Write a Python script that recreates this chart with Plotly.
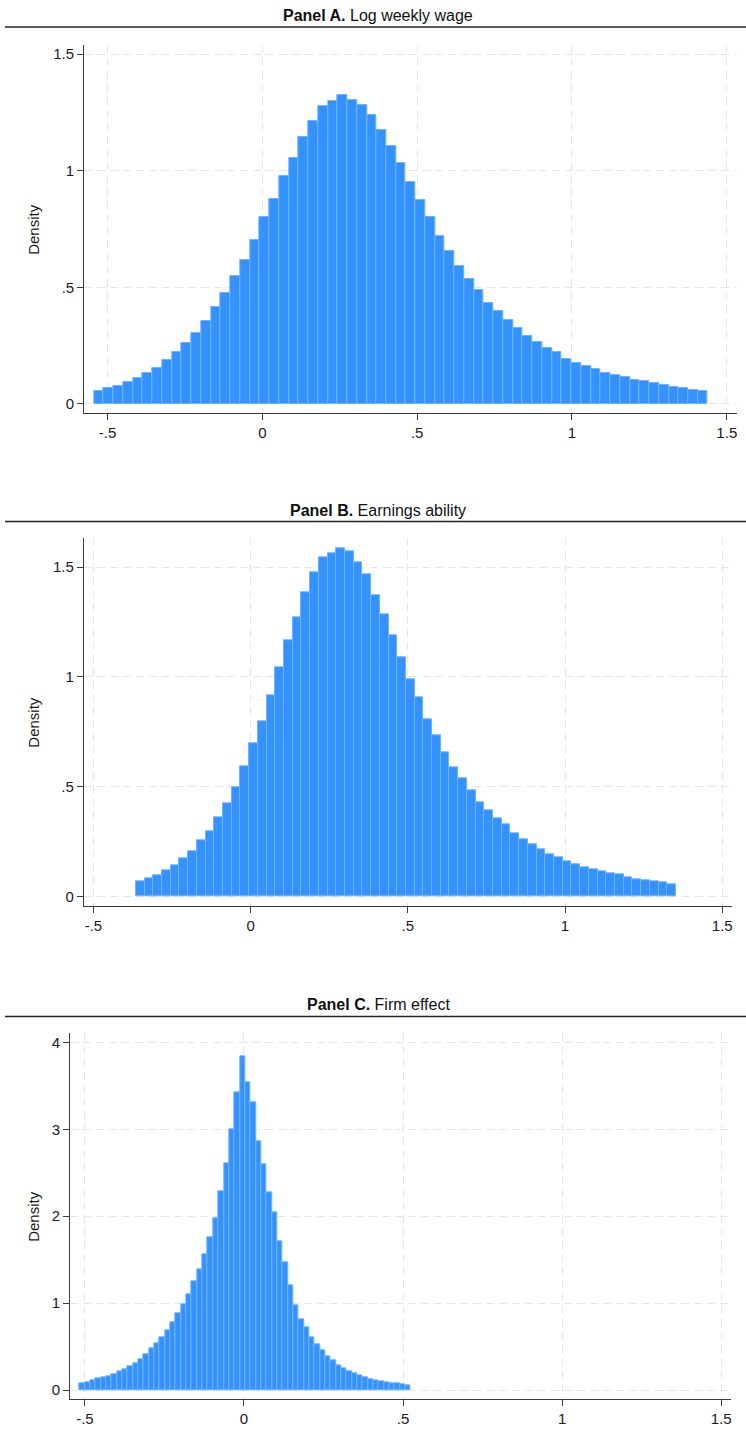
import numpy as np
import plotly.graph_objects as go

# ---------------- data ----------------
titles = ["<b>Panel A.</b> Log weekly wage",
          "<b>Panel B.</b> Earnings ability",
          "<b>Panel C.</b> Firm effect"]

# histogram bin ranges (low edge, high edge) of each panel
a_lo, a_hi = -0.5436, 1.4386
b_lo, b_hi = -0.3648, 1.3527
c_lo, c_hi = -0.5167, 0.5242

# densities, one per bin
a_density = [0.056, 0.069, 0.077, 0.096, 0.111, 0.133, 0.156, 0.189, 0.223, 0.260,
             0.306, 0.356, 0.416, 0.476, 0.549, 0.619, 0.703, 0.800, 0.880, 0.976,
             1.056, 1.145, 1.214, 1.276, 1.301, 1.325, 1.302, 1.281, 1.238, 1.175,
             1.105, 1.032, 0.953, 0.873, 0.800, 0.719, 0.656, 0.592, 0.536, 0.489,
             0.433, 0.397, 0.360, 0.324, 0.292, 0.266, 0.239, 0.222, 0.193, 0.176,
             0.162, 0.149, 0.134, 0.124, 0.116, 0.103, 0.097, 0.090, 0.081, 0.074,
             0.069, 0.061, 0.056]

b_density = [0.070, 0.082, 0.097, 0.120, 0.141, 0.172, 0.207, 0.254, 0.298, 0.358,
             0.425, 0.498, 0.594, 0.696, 0.797, 0.914, 1.042, 1.165, 1.271, 1.386,
             1.475, 1.544, 1.563, 1.585, 1.573, 1.522, 1.467, 1.370, 1.286, 1.191,
             1.087, 0.990, 0.905, 0.808, 0.732, 0.658, 0.589, 0.536, 0.483, 0.430,
             0.390, 0.354, 0.328, 0.287, 0.261, 0.238, 0.216, 0.191, 0.178, 0.159,
             0.147, 0.134, 0.121, 0.112, 0.103, 0.099, 0.088, 0.077, 0.073, 0.070,
             0.064, 0.056]

c_density = [0.077, 0.092, 0.107, 0.130, 0.146, 0.161, 0.184, 0.211, 0.242, 0.276,
             0.311, 0.357, 0.414, 0.476, 0.541, 0.610, 0.690, 0.779, 0.886, 0.989,
             1.105, 1.254, 1.392, 1.561, 1.756, 1.975, 2.290, 2.608, 2.999, 3.425,
             3.843, 3.540, 3.306, 2.865, 2.596, 2.274, 2.040, 1.714, 1.473, 1.208,
             0.978, 0.817, 0.725, 0.602, 0.529, 0.453, 0.387, 0.345, 0.284, 0.249,
             0.219, 0.192, 0.169, 0.146, 0.127, 0.111, 0.100, 0.088, 0.073, 0.077,
             0.065, 0.054]

x_tickvals = [-0.5, 0, 0.5, 1, 1.5]
x_ticktext = ["-.5", "0", ".5", "1", "1.5"]
ab_y_tickvals = [0, 0.5, 1, 1.5]
ab_y_ticktext = ["0", ".5", "1", "1.5"]
c_y_tickvals = [0, 1, 2, 3, 4]
c_y_ticktext = ["0", "1", "2", "3", "4"]

# ---------------- layout constants ----------------
W, H = 746, 1429
BAR_FILL = "rgb(52,146,255)"
BAR_EDGE = "rgb(112,178,255)"
AXIS_COL = "#3c3c3c"
GRID_COL = "#e6e6e6"
TICK_FONT = dict(family="Liberation Sans, Arial, sans-serif", size=15, color="#1a1a1a")

panels = [
    dict(lo=a_lo, hi=a_hi, dens=a_density, yv=ab_y_tickvals, yt=ab_y_ticktext,
         xrange=[-0.575, 1.532], yrange=[-0.040, 1.539],
         xpx=(84.3, 736.7), ypx=(45, 413.3), title_y=16, line_y=27),
    dict(lo=b_lo, hi=b_hi, dens=b_density, yv=ab_y_tickvals, yt=ab_y_ticktext,
         xrange=[-0.530, 1.532], yrange=[-0.043, 1.631],
         xpx=(84.0, 732.3), ypx=(538.3, 905.7), title_y=510, line_y=521.5),
    dict(lo=c_lo, hi=c_hi, dens=c_density, yv=c_y_tickvals, yt=c_y_ticktext,
         xrange=[-0.546, 1.531], yrange=[-0.1035, 4.104],
         xpx=(70.3, 731.0), ypx=(1033.3, 1399), title_y=1004.5, line_y=1016.5),
]

fig = go.Figure()
annotations = []
shapes = []

for i, p in enumerate(panels, start=1):
    n = len(p["dens"])
    edges = np.linspace(p["lo"], p["hi"], n + 1)
    centers = (edges[:-1] + edges[1:]) / 2
    width = edges[1] - edges[0]
    xa = "x" if i == 1 else f"x{i}"
    ya = "y" if i == 1 else f"y{i}"
    fig.add_trace(go.Bar(
        x=centers, y=p["dens"], width=width,
        marker=dict(color=BAR_FILL, line=dict(color=BAR_EDGE, width=1)),
        xaxis=xa, yaxis=ya, showlegend=False, hoverinfo="x+y",
    ))
    x0, x1 = p["xpx"]
    yt, yb = p["ypx"]
    xdom = [x0 / W, x1 / W]
    ydom = [1 - yb / H, 1 - yt / H]
    common = dict(showline=True, linecolor=AXIS_COL, linewidth=1.3,
                  ticks="outside", ticklen=6, tickwidth=1.2, tickcolor=AXIS_COL,
                  showgrid=True, gridcolor=GRID_COL, gridwidth=1, griddash="8px,5px",
                  zeroline=False, tickfont=TICK_FONT, mirror=False)
    xkey = "xaxis" if i == 1 else f"xaxis{i}"
    ykey = "yaxis" if i == 1 else f"yaxis{i}"
    fig.update_layout(**{
        xkey: dict(domain=xdom, range=p["xrange"], anchor=ya,
                   tickvals=x_tickvals, ticktext=x_ticktext, **common),
        ykey: dict(domain=ydom, range=p["yrange"], anchor=xa,
                   tickvals=p["yv"], ticktext=p["yt"], **common),
    })
    # panel title and rule
    annotations.append(dict(
        text=titles[i - 1], xref="paper", yref="paper",
        x=378 / W, y=1 - p["title_y"] / H, xanchor="center", yanchor="middle",
        showarrow=False,
        font=dict(family="Liberation Sans Narrow, Liberation Sans, Arial, sans-serif",
                  size=16, color="#111111"),
    ))
    shapes.append(dict(type="line", xref="paper", yref="paper",
                       x0=5 / W, x1=1, y0=1 - p["line_y"] / H, y1=1 - p["line_y"] / H,
                       line=dict(color="#222222", width=1.5)))
    annotations.append(dict(
        text="Density", xref="paper", yref="paper",
        x=32.7 / W, y=1 - (yt + yb) / 2 / H, xanchor="center", yanchor="middle",
        textangle=-90, showarrow=False,
        font=dict(family="Liberation Sans, Arial, sans-serif", size=15, color="#1a1a1a"),
    ))

fig.update_layout(
    width=W, height=H,
    margin=dict(l=0, r=0, t=0, b=0),
    paper_bgcolor="white", plot_bgcolor="white",
    bargap=0, annotations=annotations, shapes=shapes,
)

fig.write_html("out.html")
